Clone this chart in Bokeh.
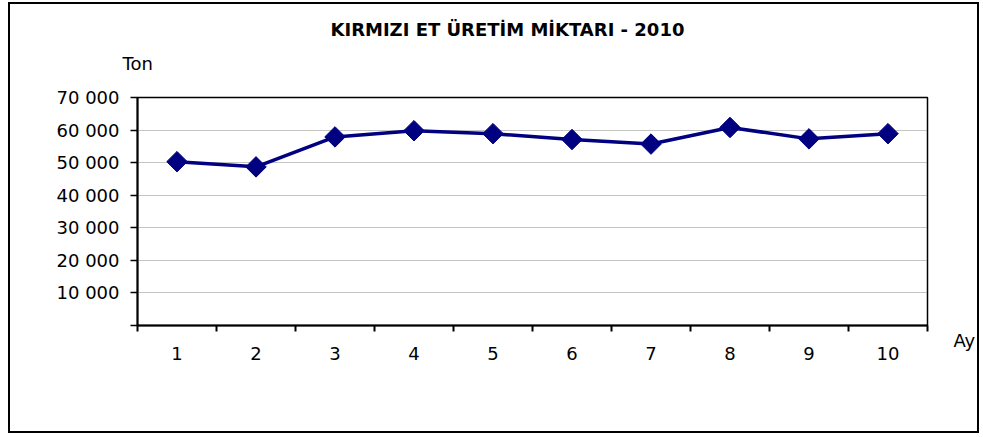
import numpy as np
from bokeh.plotting import figure
from bokeh.models import Range1d, FixedTicker, Title, LinearAxis
from bokeh.embed import file_html
from bokeh.resources import INLINE

# ---- data ----
months = [1, 2, 3, 4, 5, 6, 7, 8, 9, 10]
production = [50300, 48700, 57900, 59800, 58900, 57100, 55700, 60800, 57300, 58900]
y_ticks = [0, 10000, 20000, 30000, 40000, 50000, 60000, 70000]
y_tick_labels = ["", "10 000", "20 000", "30 000", "40 000", "50 000", "60 000", "70 000"]
x_tick_labels = ["1", "2", "3", "4", "5", "6", "7", "8", "9", "10"]
title_text = "KIRMIZI ET ÜRETİM MİKTARI - 2010"
y_unit = "Ton"
x_unit = "Ay"

FONT = "DejaVu Sans"
NAVY = "#000080"

W, H = 971, 431
p = figure(width=W, height=H, output_backend="svg", toolbar_location=None,
           x_range=Range1d(0.5, len(months) + 0.5), y_range=Range1d(0, 70000),
           min_border_left=127, min_border_right=54, min_border_top=93, min_border_bottom=110,
           background_fill_color="white", border_fill_color="white",
           styles={"border": "2px solid black", "margin-left": "8px", "margin-top": "2px"})

p.outline_line_color = "black"
p.outline_line_width = 1.5

# titles
p.title.text = title_text
p.title.text_font = FONT
p.title.text_font_style = "bold"
p.title.text_font_size = "18px"
p.title.text_color = "black"
p.title.align = "left"
p.title.offset = 193
p.title.standoff = -25

p.add_layout(Title(text=y_unit, text_font=FONT, text_font_style="normal",
                   text_font_size="18px", text_color="black",
                   align="left", offset=-15, standoff=47), "above")

# grid
p.xgrid.visible = False
p.ygrid.ticker = FixedTicker(ticks=y_ticks)
p.ygrid.grid_line_color = "#8a8a8a"
p.ygrid.grid_line_dash = "1 1"
p.ygrid.grid_line_width = 1

# x axis: labels at centers, ticks at category boundaries
xa = p.xaxis[0]
xa.ticker = FixedTicker(ticks=months, minor_ticks=[m - 0.5 for m in months] + [months[-1] + 0.5])
xa.major_label_overrides = {m: lab for m, lab in zip(months, x_tick_labels)}
xa.major_tick_out = 0
xa.major_tick_in = 0
xa.minor_tick_out = 6
xa.minor_tick_in = 0
xa.minor_tick_line_color = "black"
xa.minor_tick_line_width = 2
xa.axis_line_color = "black"
xa.axis_line_width = 2
xa.major_label_standoff = 15
xa.major_label_text_font = FONT
xa.major_label_text_font_size = "18px"
xa.major_label_text_color = "black"

# y axis
ya = p.yaxis[0]
ya.ticker = FixedTicker(ticks=y_ticks, minor_ticks=[])
ya.major_label_overrides = {t: lab for t, lab in zip(y_ticks, y_tick_labels)}
ya.major_tick_out = 7
ya.major_tick_in = 0
ya.major_tick_line_color = "black"
ya.major_tick_line_width = 1.5
ya.axis_line_color = "black"
ya.axis_line_width = 2
ya.major_label_standoff = 11
ya.major_label_text_font = FONT
ya.major_label_text_font_size = "18px"
ya.major_label_text_color = "black"

# "Ay" unit label beside the x axis end, via a label-only right axis
p.extra_y_ranges = {"unit": Range1d(0, 1)}
ra = LinearAxis(y_range_name="unit", ticker=FixedTicker(ticks=[0], minor_ticks=[]),
                major_label_overrides={0: "\n" + x_unit},
                axis_line_color=None, major_tick_line_color=None,
                major_tick_out=0, major_tick_in=0, major_label_standoff=26,
                major_label_text_font=FONT, major_label_text_font_size="18px",
                major_label_text_color="black", major_label_text_line_height=1.45)
p.add_layout(ra, "right")

# series
p.line(months, production, line_color=NAVY, line_width=3.5)
p.scatter(months, production, marker="square", angle=np.pi / 4, size=14.5,
          fill_color=NAVY, line_color=NAVY)

open("out.html", "w").write(file_html(p, INLINE))
